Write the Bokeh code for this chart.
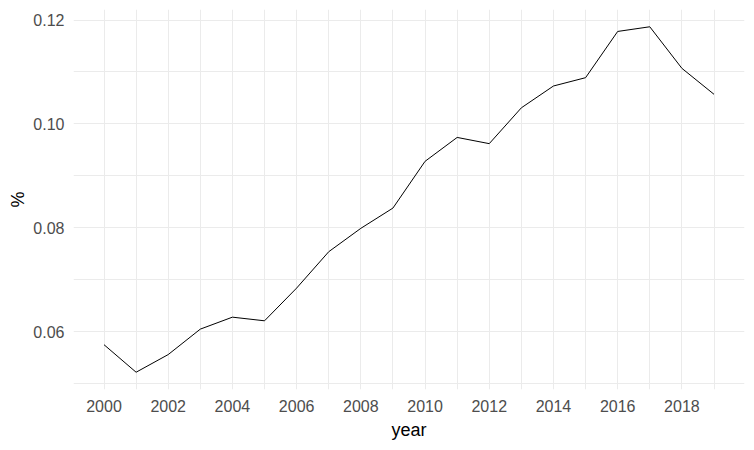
from bokeh.plotting import figure
from bokeh.models import Range1d, FixedTicker, PrintfTickFormatter, ColumnDataSource
from bokeh.embed import file_html
from bokeh.resources import INLINE

years = list(range(2000, 2020))
values = [0.0575, 0.0522, 0.0556, 0.0605, 0.0628, 0.0621, 0.0684, 0.0754, 0.0799, 0.0838,
          0.0928, 0.0974, 0.0962, 0.1031, 0.1073, 0.1089, 0.1178, 0.1187, 0.1107, 0.1057]
x_major = [2000, 2002, 2004, 2006, 2008, 2010, 2012, 2014, 2016, 2018]
x_minor = [2001, 2003, 2005, 2007, 2009, 2011, 2013, 2015, 2017, 2019]
y_major = [0.06, 0.08, 0.10, 0.12]
y_minor = [0.05, 0.07, 0.09, 0.11]

src = ColumnDataSource(data=dict(year=years, value=values))

xspan = max(years) - min(years)
yspan = max(values) - min(values)

p = figure(width=754, height=450, output_backend="svg", toolbar_location=None,
           x_range=Range1d(min(years) - 0.05 * xspan, max(years) + 0.05 * xspan),
           y_range=Range1d(min(values) - 0.05 * yspan, max(values) + 0.05 * yspan),
           min_border_left=73, min_border_right=10, min_border_top=9, min_border_bottom=61)

p.line("year", "value", source=src, line_color="black", line_width=1)

p.outline_line_color = None
p.background_fill_color = "white"

p.xaxis.ticker = FixedTicker(ticks=x_major, minor_ticks=x_minor)
p.yaxis.ticker = FixedTicker(ticks=y_major, minor_ticks=y_minor)
p.xaxis.formatter = PrintfTickFormatter(format="%d")
p.yaxis.formatter = PrintfTickFormatter(format="%.2f")

for ax in (p.xaxis[0], p.yaxis[0]):
    ax.axis_line_color = None
    ax.major_tick_line_color = None
    ax.minor_tick_line_color = None
    ax.major_tick_out = 0
    ax.major_tick_in = 0
    ax.minor_tick_out = 0
    ax.minor_tick_in = 0
    ax.major_label_text_font = "Liberation Sans"
    ax.major_label_text_font_size = "16px"
    ax.major_label_text_color = "#4D4D4D"
    ax.axis_label_text_font = "Liberation Sans"
    ax.axis_label_text_font_size = "18px"
    ax.axis_label_text_font_style = "normal"
    ax.axis_label_text_color = "black"

p.xaxis.axis_label = "year"
p.yaxis.axis_label = "%"
p.xaxis.major_label_standoff = 10
p.yaxis.major_label_standoff = 9
p.xaxis.axis_label_standoff = 5
p.yaxis.axis_label_standoff = 2

for g in (p.xgrid[0], p.ygrid[0]):
    g.grid_line_color = "#EBEBEB"
    g.grid_line_width = 1
    g.minor_grid_line_color = "#EBEBEB"
    g.minor_grid_line_width = 1

open("out.html", "w").write(file_html(p, INLINE))
